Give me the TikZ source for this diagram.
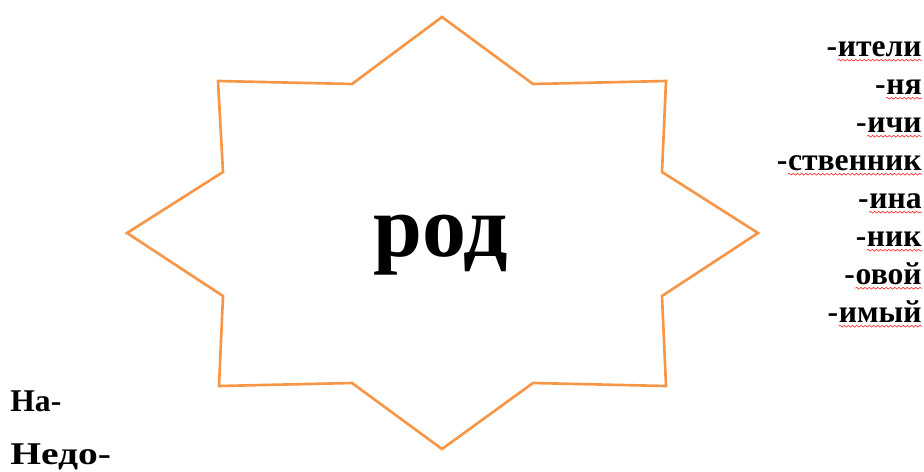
\documentclass[tikz,border=0pt]{standalone}
\usepackage{graphicx}
\usepackage{fontspec}
\setmainfont{Liberation Serif}
\usetikzlibrary{decorations.pathmorphing}
\definecolor{starorange}{HTML}{F79646}
\tikzset{
  suf/.style={anchor=base east, inner sep=0pt, font=\fontsize{18}{18}\selectfont\bfseries},
  pre/.style={anchor=base west, inner sep=0pt, font=\fontsize{18}{18}\selectfont\bfseries},
  squiggle/.style={draw=red!85, line width=0.35pt, decorate,
    decoration={snake, amplitude=0.5pt, segment length=2.4pt}}
}

\begin{document}
\begin{tikzpicture}[x=0.2mm, y=-0.2mm]
  \useasboundingbox (0,0) rectangle (924,471);
  % star
  \draw[starorange, line width=1.5pt, line join=miter]
    (442,17) -- (533,84) -- (666,81) -- (662,172) -- (758,233) -- (662,296)
    -- (666,386) -- (533,383) -- (442,449) -- (352,383) -- (219,386)
    -- (223,296) -- (127,233) -- (223,172) -- (218,81) -- (352,84) -- cycle;
  \node[anchor=base, inner sep=0pt, font=\fontsize{50}{50}\selectfont\bfseries]
    (root) at (441,256) {род};
  % suffixes
  \node[suf] (iteli)    at (922,56)  {ители};
  \node[suf] (nya)      at (922,94)  {ня};
  \node[suf] (ichi)     at (922,132) {ичи};
  \node[suf] (stvennik) at (922,170) {ственник};
  \node[suf] (ina)      at (922,208) {ина};
  \node[suf] (nik)      at (922,246) {ник};
  \node[suf] (ovoy)     at (922,284) {овой};
  \node[suf] (imyy)     at (922,322) {имый};
  \node[suf] at (iteli.base west)    {-};
  \node[suf] at (nya.base west)      {-};
  \node[suf] at (ichi.base west)     {-};
  \node[suf] at (stvennik.base west) {-};
  \node[suf] at (ina.base west)      {-};
  \node[suf] at (nik.base west)      {-};
  \node[suf] at (ovoy.base west)     {-};
  \node[suf] at (imyy.base west)     {-};
  % spelling marks
  \draw[squiggle] ([yshift=-2.4pt]iteli.base west)    -- ([yshift=-2.4pt]iteli.base east);
  \draw[squiggle] ([yshift=-2.4pt]nya.base west)      -- ([yshift=-2.4pt]nya.base east);
  \draw[squiggle] ([yshift=-2.4pt]ichi.base west)     -- ([yshift=-2.4pt]ichi.base east);
  \draw[squiggle] ([yshift=-2.4pt]stvennik.base west) -- ([yshift=-2.4pt]stvennik.base east);
  \draw[squiggle] ([yshift=-2.4pt]ina.base west)      -- ([yshift=-2.4pt]ina.base east);
  \draw[squiggle] ([yshift=-2.4pt]nik.base west)      -- ([yshift=-2.4pt]nik.base east);
  \draw[squiggle] ([yshift=-2.4pt]ovoy.base west)     -- ([yshift=-2.4pt]ovoy.base east);
  \draw[squiggle] ([yshift=-2.4pt]imyy.base west)     -- ([yshift=-2.4pt]imyy.base east);
  % prefixes
  \node[pre] (na)   at (10,411) {На-};
  \node[pre] (nedo) at (10,464) {\scalebox{1.25}[1]{Недо-}};
\end{tikzpicture}
\end{document}
